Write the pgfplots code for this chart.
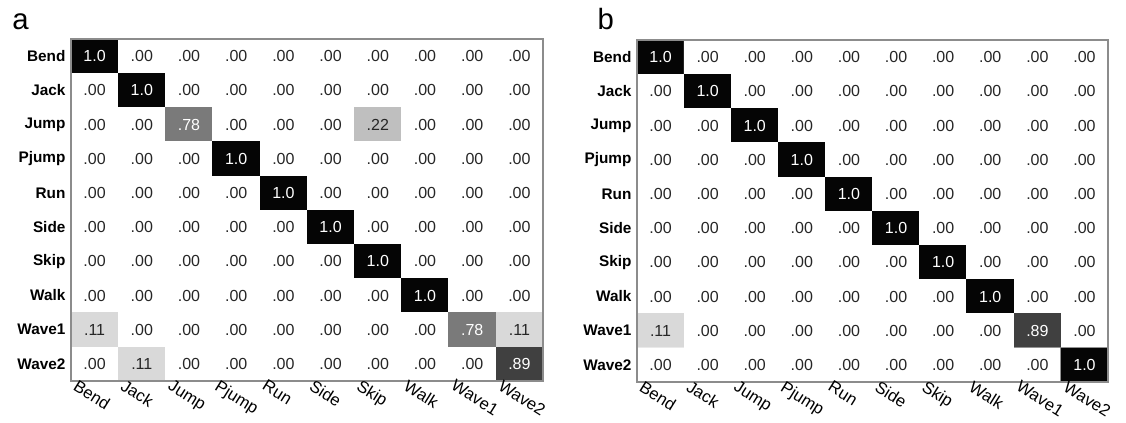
\documentclass[border=0pt]{standalone}
\usepackage{pgfplots}
\usepackage{pgfplotstable}
\pgfplotsset{compat=1.18}
\usepackage{fontspec}
\setmainfont{Liberation Sans}
\setsansfont{Liberation Sans}

\pgfplotstableread{
x y v lab
0 0 1 1.0
1 0 0 .00
2 0 0 .00
3 0 0 .00
4 0 0 .00
5 0 0 .00
6 0 0 .00
7 0 0 .00
8 0 0 .00
9 0 0 .00
0 1 0 .00
1 1 1 1.0
2 1 0 .00
3 1 0 .00
4 1 0 .00
5 1 0 .00
6 1 0 .00
7 1 0 .00
8 1 0 .00
9 1 0 .00
0 2 0 .00
1 2 0 .00
2 2 0.78 .78
3 2 0 .00
4 2 0 .00
5 2 0 .00
6 2 0.22 .22
7 2 0 .00
8 2 0 .00
9 2 0 .00
0 3 0 .00
1 3 0 .00
2 3 0 .00
3 3 1 1.0
4 3 0 .00
5 3 0 .00
6 3 0 .00
7 3 0 .00
8 3 0 .00
9 3 0 .00
0 4 0 .00
1 4 0 .00
2 4 0 .00
3 4 0 .00
4 4 1 1.0
5 4 0 .00
6 4 0 .00
7 4 0 .00
8 4 0 .00
9 4 0 .00
0 5 0 .00
1 5 0 .00
2 5 0 .00
3 5 0 .00
4 5 0 .00
5 5 1 1.0
6 5 0 .00
7 5 0 .00
8 5 0 .00
9 5 0 .00
0 6 0 .00
1 6 0 .00
2 6 0 .00
3 6 0 .00
4 6 0 .00
5 6 0 .00
6 6 1 1.0
7 6 0 .00
8 6 0 .00
9 6 0 .00
0 7 0 .00
1 7 0 .00
2 7 0 .00
3 7 0 .00
4 7 0 .00
5 7 0 .00
6 7 0 .00
7 7 1 1.0
8 7 0 .00
9 7 0 .00
0 8 0.11 .11
1 8 0 .00
2 8 0 .00
3 8 0 .00
4 8 0 .00
5 8 0 .00
6 8 0 .00
7 8 0 .00
8 8 0.78 .78
9 8 0.11 .11
0 9 0 .00
1 9 0.11 .11
2 9 0 .00
3 9 0 .00
4 9 0 .00
5 9 0 .00
6 9 0 .00
7 9 0 .00
8 9 0 .00
9 9 0.89 .89
}\tableA

\pgfplotstableread{
x y v lab
0 0 1 1.0
1 0 0 .00
2 0 0 .00
3 0 0 .00
4 0 0 .00
5 0 0 .00
6 0 0 .00
7 0 0 .00
8 0 0 .00
9 0 0 .00
0 1 0 .00
1 1 1 1.0
2 1 0 .00
3 1 0 .00
4 1 0 .00
5 1 0 .00
6 1 0 .00
7 1 0 .00
8 1 0 .00
9 1 0 .00
0 2 0 .00
1 2 0 .00
2 2 1 1.0
3 2 0 .00
4 2 0 .00
5 2 0 .00
6 2 0 .00
7 2 0 .00
8 2 0 .00
9 2 0 .00
0 3 0 .00
1 3 0 .00
2 3 0 .00
3 3 1 1.0
4 3 0 .00
5 3 0 .00
6 3 0 .00
7 3 0 .00
8 3 0 .00
9 3 0 .00
0 4 0 .00
1 4 0 .00
2 4 0 .00
3 4 0 .00
4 4 1 1.0
5 4 0 .00
6 4 0 .00
7 4 0 .00
8 4 0 .00
9 4 0 .00
0 5 0 .00
1 5 0 .00
2 5 0 .00
3 5 0 .00
4 5 0 .00
5 5 1 1.0
6 5 0 .00
7 5 0 .00
8 5 0 .00
9 5 0 .00
0 6 0 .00
1 6 0 .00
2 6 0 .00
3 6 0 .00
4 6 0 .00
5 6 0 .00
6 6 1 1.0
7 6 0 .00
8 6 0 .00
9 6 0 .00
0 7 0 .00
1 7 0 .00
2 7 0 .00
3 7 0 .00
4 7 0 .00
5 7 0 .00
6 7 0 .00
7 7 1 1.0
8 7 0 .00
9 7 0 .00
0 8 0.11 .11
1 8 0 .00
2 8 0 .00
3 8 0 .00
4 8 0 .00
5 8 0 .00
6 8 0 .00
7 8 0 .00
8 8 0.89 .89
9 8 0 .00
0 9 0 .00
1 9 0 .00
2 9 0 .00
3 9 0 .00
4 9 0 .00
5 9 0 .00
6 9 0 .00
7 9 0 .00
8 9 0 .00
9 9 1 1.0
}\tableB

\pgfplotsset{
  cmstyle/.style={
    scale only axis, width=354pt, height=256.5pt,
    xmin=-0.5, xmax=9.5, ymin=-0.5, ymax=9.5,
    y dir=reverse, axis on top,
    axis line style={draw=black!45, line width=0.8pt},
    xtick={0,...,9}, ytick={0,...,9},
    xticklabels={Bend,Jack,Jump,Pjump,Run,Side,Skip,Walk,Wave1,Wave2},
    yticklabels={Bend,Jack,Jump,Pjump,Run,Side,Skip,Walk,Wave1,Wave2},
    major tick length=0pt,
    yticklabel style={font=\fontsize{11.5}{13}\selectfont\bfseries, anchor=east, inner sep=0pt, xshift=-4pt},
    xticklabel style={font=\fontsize{12.5}{14}\selectfont, rotate=-32, anchor=north west, inner sep=0pt, xshift=-11pt, yshift=-5pt},
    colormap={cmgray}{gray(0cm)=(1); gray(11cm)=(0.85); gray(22cm)=(0.75); gray(78cm)=(0.48); gray(89cm)=(0.25); gray(100cm)=(0.02)},
    point meta min=0, point meta max=1,
    clip=false,
  },
  cellplot/.style={matrix plot*, mesh/cols=10, point meta=explicit, draw=none},
  darklab/.style={draw=none, nodes near coords, point meta=explicit symbolic,
    nodes near coords style={font=\fontsize{12}{13}\selectfont, text=white, anchor=center, inner sep=0pt}},
  lightlab/.style={draw=none, nodes near coords, point meta=explicit symbolic,
    nodes near coords style={font=\fontsize{12}{13}\selectfont, text=black!85, anchor=center, inner sep=0pt}},
}

\begin{document}
\begin{tikzpicture}
\path[use as bounding box] (0,0) rectangle (844.5pt,-317.25pt);
\node[anchor=base west, inner sep=0pt, font=\fontsize{22}{24}\selectfont] at (9pt,-22.5pt) {a};
\node[anchor=base west, inner sep=0pt, font=\fontsize{22}{24}\selectfont] at (448pt,-22.5pt) {b};

\begin{axis}[cmstyle, at={(53.25pt,-285.75pt)}, anchor=south west]
\addplot[cellplot] table[x=x, y=y, meta=v] {\tableA};
\addplot[darklab] table[x expr={\thisrow{v}>0.5 ? \thisrow{x} : nan}, y=y, meta=lab] {\tableA};
\addplot[lightlab] table[x expr={\thisrow{v}>0.5 ? nan : \thisrow{x}}, y=y, meta=lab] {\tableA};
\end{axis}

\begin{axis}[cmstyle, at={(477.75pt,-286.5pt)}, anchor=south west, width=353.25pt]
\addplot[cellplot] table[x=x, y=y, meta=v] {\tableB};
\addplot[darklab] table[x expr={\thisrow{v}>0.5 ? \thisrow{x} : nan}, y=y, meta=lab] {\tableB};
\addplot[lightlab] table[x expr={\thisrow{v}>0.5 ? nan : \thisrow{x}}, y=y, meta=lab] {\tableB};
\end{axis}
\end{tikzpicture}
\end{document}
